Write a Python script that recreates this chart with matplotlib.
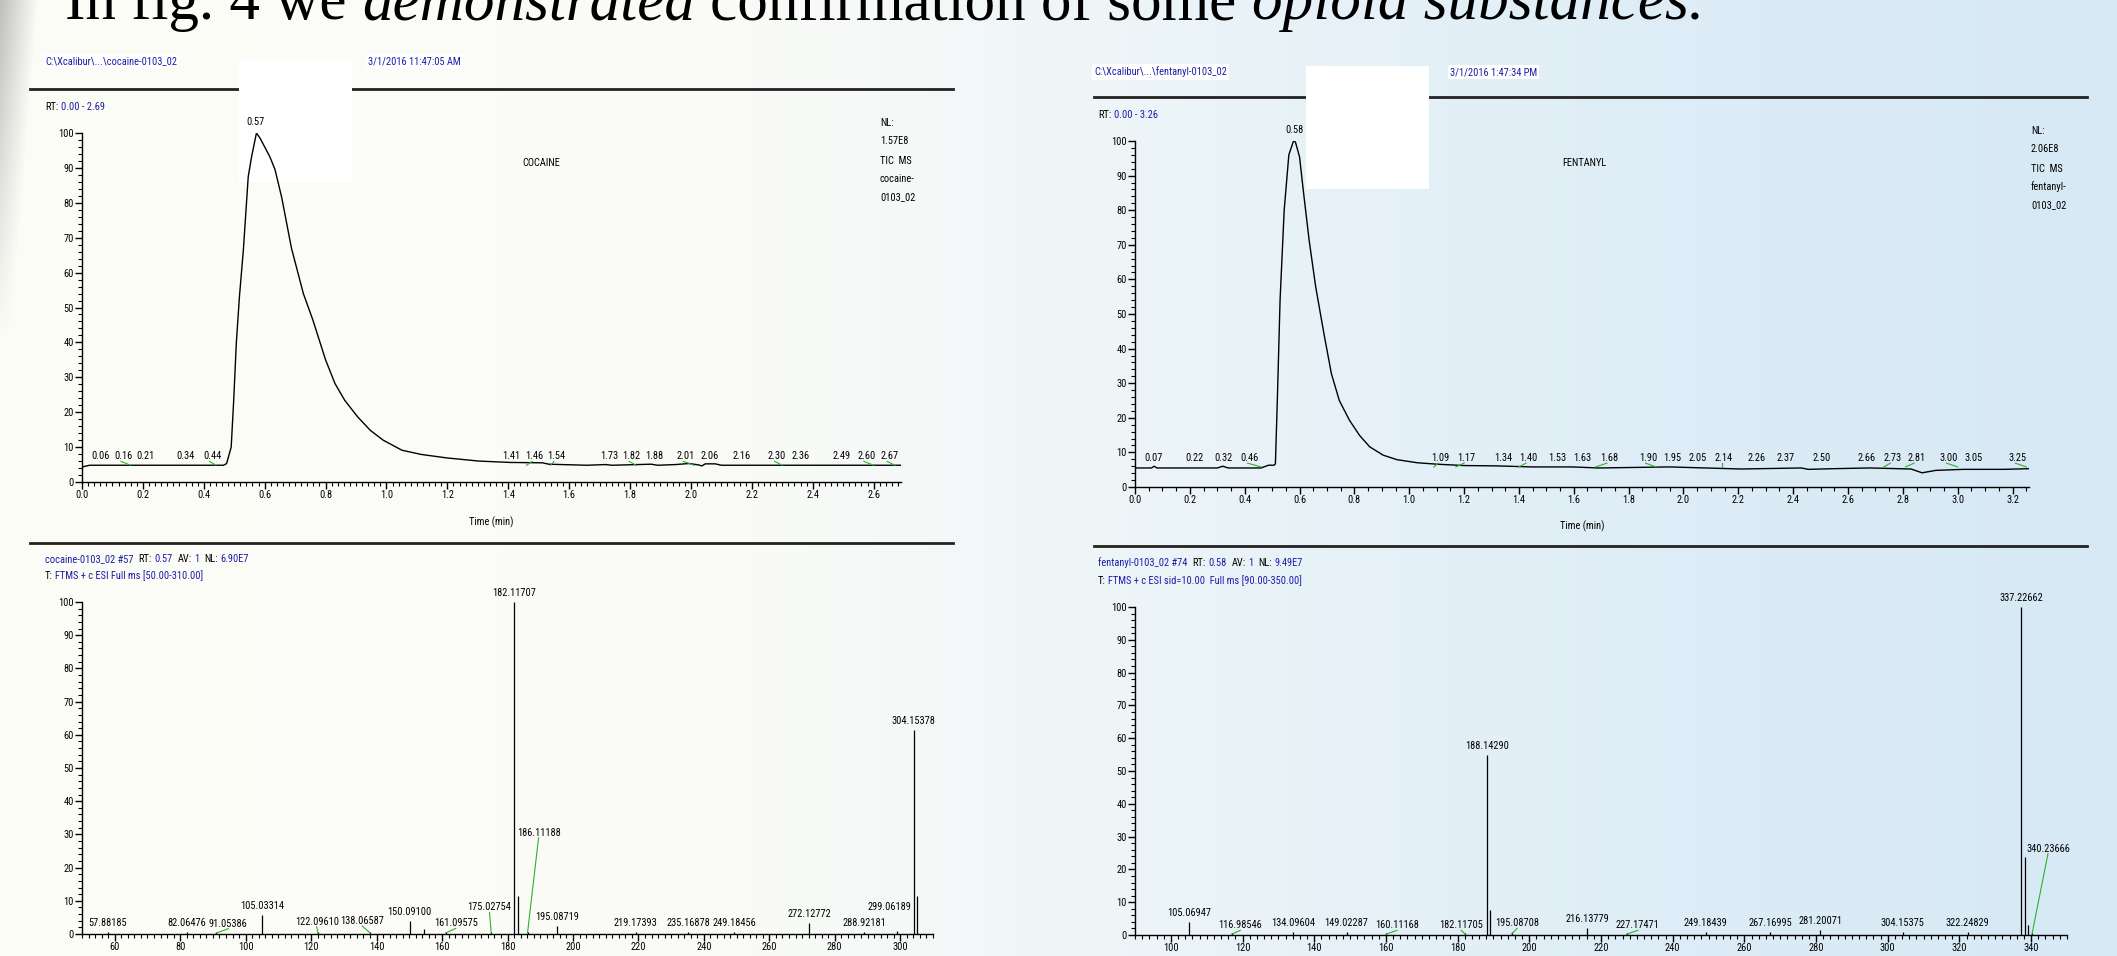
import numpy as np
import matplotlib.pyplot as plt
from matplotlib import font_manager as fm
from matplotlib.ticker import MultipleLocator
from matplotlib.patches import Rectangle

W, H = 2117, 956

# chromatogram traces: time (min), relative abundance (%)
coc_t = [0.00, 0.025, 0.10, 0.20, 0.30, 0.40, 0.465, 0.475, 0.49, 0.498, 0.507,
         0.517, 0.53, 0.546, 0.557, 0.573, 0.585, 0.60, 0.617, 0.634, 0.656,
         0.688, 0.727, 0.758, 0.80, 0.831, 0.863, 0.905, 0.947, 0.989, 1.051,
         1.114, 1.198, 1.303, 1.407, 1.512, 1.533, 1.659, 1.72, 1.74, 1.87,
         1.89, 1.95, 1.994, 2.025, 2.036, 2.047, 2.08, 2.10, 2.40, 2.69]
coc_i = [4.3, 4.8, 4.8, 4.8, 4.8, 4.8, 4.8, 5.3, 10.0, 23.0, 40.0,
         53.0, 66.5, 87.5, 93.2, 100.0, 98.5, 96.0, 93.2, 89.5, 81.5,
         67.0, 54.0, 46.5, 35.0, 28.2, 23.4, 18.7, 14.8, 12.0, 9.1,
         7.9, 6.9, 6.0, 5.6, 5.5, 5.1, 4.8, 5.0, 4.8, 5.1,
         4.8, 5.0, 5.3, 4.9, 4.6, 5.2, 5.2, 4.8, 4.8, 4.8]
coc_rt = ['0.06', '0.16', '0.21', '0.34', '0.44', '1.41', '1.46', '1.54', '1.73',
          '1.82', '1.88', '2.01', '2.06', '2.16', '2.30', '2.36', '2.49', '2.60', '2.67']
coc_rt_green = ['0.16', '0.44', '1.46', '1.54', '1.82', '2.01', '2.30', '2.60', '2.67']

fen_t = [0.00, 0.06, 0.07, 0.08, 0.30, 0.32, 0.34, 0.46, 0.487, 0.507, 0.512,
         0.519, 0.529, 0.544, 0.561, 0.578, 0.585, 0.60, 0.615, 0.635, 0.659,
         0.689, 0.716, 0.745, 0.782, 0.819, 0.856, 0.905, 0.955, 1.03, 1.10,
         1.20, 1.32, 1.447, 1.594, 1.69, 1.95, 2.21, 2.43, 2.455, 2.55, 2.68,
         2.83, 2.87, 2.92, 3.02, 3.17, 3.26]
fen_i = [5.5, 5.5, 6.0, 5.5, 5.5, 6.0, 5.5, 5.5, 6.3, 6.3, 6.7,
         25.0, 54.0, 80.0, 96.0, 100.0, 99.7, 95.4, 84.8, 71.3, 57.8,
         44.3, 32.8, 25.0, 19.3, 14.9, 11.6, 9.2, 7.9, 7.0, 6.6,
         6.2, 6.1, 5.8, 5.8, 5.5, 5.8, 5.2, 5.5, 5.1, 5.3, 5.5,
         5.2, 4.1, 4.8, 5.1, 5.1, 5.3]
fen_rt = ['0.07', '0.22', '0.32', '0.46', '1.09', '1.17', '1.34', '1.40', '1.53',
          '1.63', '1.68', '1.90', '1.95', '2.05', '2.14', '2.26', '2.37', '2.50',
          '2.66', '2.73', '2.81', '3.00', '3.05', '3.25']
fen_rt_green = ['0.46', '1.09', '1.17', '1.40', '1.68', '1.90', '2.14', '2.73',
                '2.81', '3.00', '3.25']

# where the software placed each retention-time label (layout only)
coc_rt_pos = [0.061, 0.136, 0.209, 0.339, 0.427, 1.411, 1.487, 1.558, 1.732,
              1.805, 1.878, 1.983, 2.061, 2.165, 2.283, 2.36, 2.496, 2.576, 2.653]
fen_rt_pos = [0.069, 0.216, 0.322, 0.418, 1.114, 1.208, 1.343, 1.434, 1.538,
              1.631, 1.729, 1.87, 1.958, 2.052, 2.148, 2.266, 2.374, 2.504,
              2.669, 2.763, 2.849, 2.967, 3.058, 3.218]

# mass spectra: labelled peaks (m/z, %) and unlabelled isotope peaks
coc_mz = [57.88185, 82.06476, 91.05386, 105.03314, 122.09610, 138.06587,
          150.09100, 161.09575, 175.02754, 182.11707, 186.11188, 195.08719,
          219.17393, 235.16878, 249.18456, 272.12772, 288.92181, 299.06189,
          304.15378]
coc_int = [0.5, 0.6, 0.5, 5.8, 0.6, 0.6, 4.0, 0.5, 0.6, 100.0, 0.6, 2.3,
           0.6, 0.5, 0.5, 3.3, 0.5, 1.0, 61.3]
coc_iso_mz = [154.5, 183.12, 305.157]
coc_iso_int = [1.5, 11.3, 11.5]

fen_mz = [105.06947, 116.98546, 134.09604, 149.02287, 160.11168, 182.11705,
          188.14290, 195.08708, 216.13779, 227.17471, 249.18439, 267.16995,
          281.20071, 304.15375, 322.24829, 337.22662, 340.23666]
fen_int = [4.0, 0.5, 1.0, 0.8, 0.5, 0.5, 54.8, 0.8, 2.0, 0.5, 0.8, 0.8,
           1.5, 0.8, 0.8, 100.0, 0.5]
fen_iso_mz = [189.146, 338.23, 339.23]
fen_iso_int = [7.6, 23.9, 3.0]

# labels moved away from their peak by the software (x, y of label)
coc_moved = {91.05386: (94.7, 1.6), 122.09610: (121.7, 2.2), 138.06587: (135.6, 2.4),
             161.09575: (164.2, 1.7), 175.02754: (174.5, 6.5), 186.11188: (189.5, 29.0),
             299.06189: (296.7, 6.6)}
coc_green = [91.05386, 122.09610, 138.06587, 161.09575, 175.02754, 186.11188]
fen_moved = {116.98546: (119.4, 1.4), 160.11168: (163.1, 1.4), 182.11705: (181.0, 1.4),
             195.08708: (196.6, 2.0), 227.17471: (230.3, 1.4), 340.23666: (344.7, 24.8)}
fen_green = [116.98546, 160.11168, 182.11705, 195.08708, 227.17471, 340.23666]


# the instrument printout uses a tall, narrow sans font
def pick_narrow():
    pref = ['Liberation Sans Narrow', 'Roboto Condensed', 'Open Sans Condensed',
            'DejaVu Sans Condensed', 'Noto Sans Condensed', 'DejaVu Sans']
    found = {}
    for f in fm.fontManager.ttflist:
        narrow = ('Narrow' in f.name or 'Condensed' in f.name or
                  str(f.stretch) in ('condensed', 'semi-condensed', 'extra-condensed'))
        try:
            w = int(f.weight)
        except (TypeError, ValueError):
            w = 400
        if narrow and f.style == 'normal' and 350 <= w <= 450:
            found.setdefault(f.name, f)
    for p in pref:
        if p in found:
            return found[p]
    return next(iter(found.values()), None)


nf = pick_narrow()
if nf is not None:
    plt.rcParams['font.family'] = [nf.name, 'DejaVu Sans']
    plt.rcParams['font.stretch'] = nf.stretch
    FS = 7.5
else:
    plt.rcParams['font.family'] = ['Liberation Sans', 'DejaVu Sans']
    FS = 6.5

BLUE = '#1c1ca8'
GREEN = '#2fb02f'

fig = plt.figure(figsize=(W / 100, H / 100), dpi=100)

# background: cream on the left, pale blue on the right
bg = fig.add_axes([0, 0, 1, 1], zorder=0)
bg.set_xlim(0, W)
bg.set_ylim(H, 0)
bg.axis('off')
xs = np.arange(W)
stops_x = [0, 750, 1250, 1700, W]
stops_c = np.array([[253, 253, 248], [250, 251, 247], [233, 243, 248],
                    [221, 236, 246], [214, 233, 245]]) / 255
grad = np.stack([np.interp(xs, stops_x, stops_c[:, k]) for k in range(3)], axis=-1)
bg.imshow(grad[None, :, :], extent=[0, W, H, 0], aspect='auto', zorder=0)
# grey blurred decoration at the top-left edge
gy, gx = np.mgrid[0:340, 0:50]
alpha = np.clip(1 - gx / (38 - gy * 0.08), 0, 1) * np.clip(1 - gy / 340, 0, 1) * 0.55
shade = np.zeros((340, 50, 4))
shade[..., :3] = 0.55
shade[..., 3] = alpha
bg.imshow(shade, extent=[0, 50, 340, 0], aspect='auto', zorder=0.5)

r = fig.canvas.get_renderer()


def runs(x, y, parts, size=FS, box=False, **kw):
    sp = size * 1.389 * 0.24
    for s, c in parts:
        x += (len(s) - len(s.lstrip(' '))) * sp
        t = bg.text(x, y, s.strip(), color=c, fontsize=size, va='center', ha='left',
                    zorder=3, **kw)
        if box:
            t.set_bbox(dict(fc='white', ec='none', pad=1.5))
        x += t.get_window_extent(renderer=r).width
        x += (len(s) - len(s.rstrip(' '))) * sp
    return x


# title, cut by the top edge
TS = 44
tx = 65
for s, st in [('In fig. 4 we ', 'normal'), ('demonstrated', 'italic'),
              (' confirmation of some ', 'normal'), ('opioid substances.', 'italic')]:
    sp = TS * 1.389 * 0.25
    tx += (len(s) - len(s.lstrip(' '))) * sp
    t = bg.text(tx, 19, s.strip(), fontsize=TS, family='Liberation Serif', style=st,
                stretch='normal', va='baseline', ha='left', color='black', zorder=3)
    tx += t.get_window_extent(renderer=r).width + (len(s) - len(s.rstrip(' '))) * sp

# panel frames
for (x0, x1, y) in [(30, 953, 89), (30, 953, 543), (1094, 2087, 97), (1094, 2087, 546)]:
    bg.plot([x0, x1], [y, y], color='#222222', lw=2, zorder=1)
bg.add_patch(Rectangle((239, 59), 113, 123, fc='white', ec='none', zorder=2))
bg.add_patch(Rectangle((1306, 66), 123, 123, fc='white', ec='none', zorder=2))

runs(45, 61, [('C:\\Xcalibur\\...\\cocaine-0103_02', BLUE)], box=True)
runs(368, 61, [('3/1/2016 11:47:05 AM', BLUE)], box=True)
runs(1094, 72, [('C:\\Xcalibur\\...\\fentanyl-0103_02', BLUE)], box=True)
runs(1450, 72, [('3/1/2016 1:47:34 PM', BLUE)], box=True)
runs(45, 107, [('RT: ', 'black'), ('0.00 - 2.69', BLUE)])
runs(1098, 115, [('RT: ', 'black'), ('0.00 - 3.26', BLUE)])
runs(45, 559, [('cocaine-0103_02 #57  ', BLUE), ('RT: ', 'black'), ('0.57  ', BLUE),
               ('AV: ', 'black'), ('1  ', BLUE), ('NL: ', 'black'), ('6.90E7', BLUE)])
runs(45, 576, [('T: ', 'black'), ('FTMS + c ESI Full ms [50.00-310.00]', BLUE)])
runs(1098, 563, [('fentanyl-0103_02 #74  ', BLUE), ('RT: ', 'black'), ('0.58  ', BLUE),
                 ('AV: ', 'black'), ('1  ', BLUE), ('NL: ', 'black'), ('9.49E7', BLUE)])
runs(1098, 581, [('T: ', 'black'), ('FTMS + c ESI sid=10.00  Full ms [90.00-350.00]', BLUE)])

for x0, y0, lines in [(880, 123, ['NL:', '1.57E8', 'TIC  MS', 'cocaine-', '0103_02']),
                      (2031, 131, ['NL:', '2.06E8', 'TIC  MS', 'fentanyl-', '0103_02'])]:
    for k, s in enumerate(lines):
        bg.text(x0, y0 + k * 18 + (2 if k > 1 else 0), s, fontsize=FS, va='center',
                ha='left', zorder=3)
bg.text(541, 163, 'COCAINE', fontsize=FS, ha='center', va='center', zorder=3)
bg.text(1584, 163, 'FENTANYL', fontsize=FS, ha='center', va='center', zorder=3)
bg.text(491, 522, 'Time (min)', fontsize=FS, ha='center', va='center', zorder=3)
bg.text(1582, 526, 'Time (min)', fontsize=FS, ha='center', va='center', zorder=3)


def make_ax(x0, x1, ytop, ybot):
    ax = fig.add_axes([x0 / W, 1 - ybot / H, (x1 - x0) / W, (ybot - ytop) / H], zorder=4)
    ax.patch.set_visible(False)
    for s in ['top', 'right']:
        ax.spines[s].set_visible(False)
    for s in ['left', 'bottom']:
        ax.spines[s].set_linewidth(1.0)
    ax.set_ylim(0, 100)
    ax.yaxis.set_major_locator(MultipleLocator(10))
    ax.yaxis.set_minor_locator(MultipleLocator(2))
    ax.tick_params(which='major', length=5, width=1.0, labelsize=FS, pad=1)
    ax.tick_params(which='minor', length=3, width=0.8)
    return ax


def chrom(ax, t, i, labels, pos, green, top, xmax, minor, lvl):
    ax.plot(t, i, color='black', lw=1.0)
    ax.set_xlim(0, xmax)
    ax.xaxis.set_major_locator(MultipleLocator(0.2))
    ax.xaxis.set_minor_locator(MultipleLocator(minor))
    ax.xaxis.set_major_formatter(lambda v, p: f'{v:.1f}')
    ax.annotate(top, (float(top), 100), xytext=(0, 4), textcoords='offset points',
                ha='center', va='bottom', fontsize=FS, annotation_clip=False)
    for s, px in zip(labels, pos):
        v = float(s)
        ax.text(px, lvl, s, ha='center', va='bottom', fontsize=FS)
        if s in green:
            ax.plot([px - 0.008, v], [lvl - 0.1, lvl - 1.2], color=GREEN, lw=0.8)


def spec(ax, mz, inten, iso_mz, iso_int, moved, green, xlim):
    ax.vlines(mz, 0, inten, color='black', lw=0.9)
    ax.vlines(iso_mz, 0, iso_int, color='black', lw=0.9)
    ax.set_xlim(*xlim)
    ax.xaxis.set_major_locator(MultipleLocator(20))
    ax.xaxis.set_minor_locator(MultipleLocator(2))
    for m, v in zip(mz, inten):
        s = f'{m:.5f}'
        if m in moved:
            lx, ly = moved[m]
            ax.text(lx, ly, s, ha='center', va='bottom', fontsize=FS, clip_on=False)
            if m in green:
                ax.plot([lx, m], [ly, 0.3], color=GREEN, lw=0.8, clip_on=False)
        else:
            ax.annotate(s, (m, v), xytext=(0, 3), textcoords='offset points',
                        ha='center', va='bottom', fontsize=FS, annotation_clip=False)


ax1 = make_ax(82, 901, 133, 482)
chrom(ax1, coc_t, coc_i, coc_rt, coc_rt_pos, coc_rt_green, '0.57', 2.69, 0.02, 6.0)
ax2 = make_ax(1135, 2029, 141, 487)
chrom(ax2, fen_t, fen_i, fen_rt, fen_rt_pos, fen_rt_green, '0.58', 3.26, 0.05, 7.0)
ax3 = make_ax(82, 933, 602, 934)
spec(ax3, coc_mz, coc_int, coc_iso_mz, coc_iso_int, coc_moved, coc_green, (50, 310))
ax4 = make_ax(1135, 2067, 607, 935)
spec(ax4, fen_mz, fen_int, fen_iso_mz, fen_iso_int, fen_moved, fen_green, (90, 350))

fig.savefig('out.png', dpi=100)
